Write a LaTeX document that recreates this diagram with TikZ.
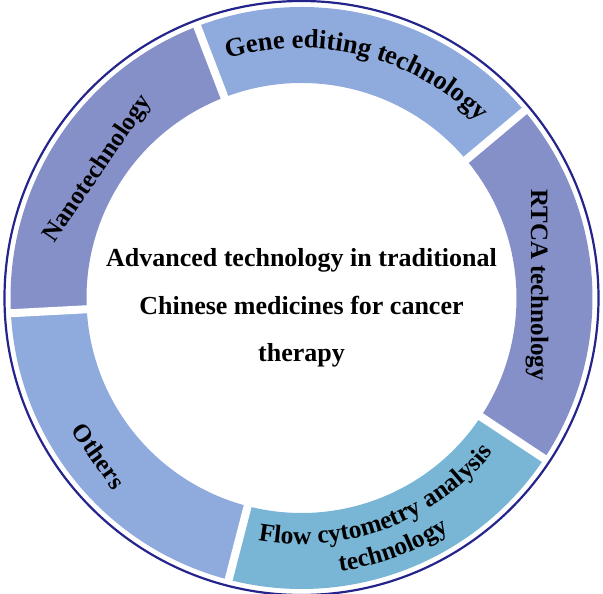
\documentclass[tikz,border=0pt]{standalone}
\usepackage{fontspec}
\setmainfont{Liberation Serif}
\usetikzlibrary{decorations.text}
\definecolor{navyline}{RGB}{36,36,140}
\definecolor{segA}{RGB}{133,144,201}
\definecolor{segB}{RGB}{143,170,220}
\definecolor{segC}{RGB}{121,182,213}
\newcommand{\ringfont}{\fontsize{25}{25}\selectfont\bfseries}
\newcommand{\arcfont}{\fontsize{26.5}{26.5}\selectfont\bfseries}
\newcommand{\flowfont}{\fontsize{25.5}{25.5}\selectfont\bfseries}
\newcommand{\ringseg}[3]{\fill[#3] (#1:291) arc[start angle=#1, end angle=#2, radius=291] -- (#2:215) arc[start angle=#2, end angle=#1, radius=215] -- cycle;}
\newcommand{\ringgap}[1]{\draw[white, line width=8pt] (#1:205) -- (#1:294);}
\begin{document}
\begin{tikzpicture}[x=1pt,y=1pt,
  ringlbl/.style={font=\ringfont, inner sep=0pt},
  centerlbl/.style={font=\fontsize{26}{47.5}\selectfont\bfseries, align=center, inner sep=0pt}]
\useasboundingbox (-301.5,-296) rectangle (301.5,298);
% ring segments
\ringseg{111}{183}{segA}
\ringseg{40}{111}{segB}
\ringseg{-33.5}{40}{segA}
\ringseg{-104.5}{-33.5}{segC}
\ringseg{183}{255.5}{segB}
% gaps
\ringgap{111}
\ringgap{40}
\ringgap{-33.5}
\ringgap{-104.5}
\ringgap{183}
% outline
\draw[navyline, line width=2.2pt] (0,0) circle[radius=297];
% labels
\node[ringlbl, rotate=56] (nano) at (-203.5,129) {Nanotechnology};
\node[ringlbl, rotate=-90] (rtca) at (235.5,13) {RTCA technology};
\node[ringlbl, rotate=-55] (others) at (-202.5,-158) {Others};
\path[decorate, decoration={text along path, text align=center,
  text={|\arcfont|Gene editing technology}}]
  (110:250) arc[start angle=110, end angle=42, radius=250];
\path[decorate, decoration={text along path, text align=center,
  text={|\flowfont|Flow cytometry analysis}}]
  (-104:246) arc[start angle=-104, end angle=-35, radius=246];
\path[decorate, decoration={text along path, text align=center,
  text={|\flowfont|technology}}]
  (-95:276) arc[start angle=-95, end angle=-44.6, radius=276];
\node[centerlbl] (title) at (0,-10) {Advanced technology in traditional\\Chinese medicines for cancer\\therapy};
\end{tikzpicture}
\end{document}
